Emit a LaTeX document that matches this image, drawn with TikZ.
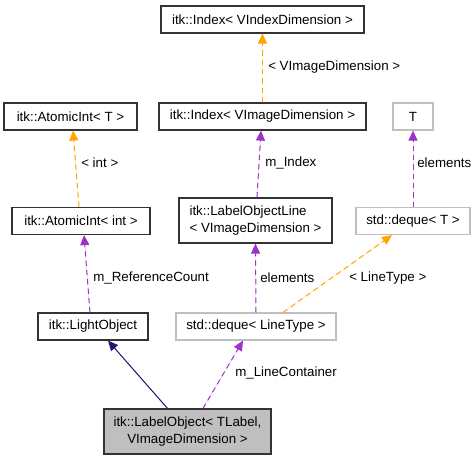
\documentclass[tikz,border=0pt]{standalone}
\usepackage{fontspec}
\setmainfont{Liberation Sans}
\usepackage{tikz}
\usetikzlibrary{arrows.meta, positioning}
\usepackage{xcolor}
\definecolor{edgeorange}{HTML}{FFA500}
\definecolor{edgepurple}{HTML}{9A32CD}
\definecolor{edgenavy}{HTML}{191970}
\definecolor{nodegray}{HTML}{BFBFBF}

\begin{document}
\begin{tikzpicture}[
    x=0.75pt, y=-0.75pt,
    every node/.style={font=\fontsize{10}{12.75}\selectfont},
    cls/.style={
        rectangle,
        draw=black!80,
        line width=0.9pt,
        inner sep=0pt,
        minimum height=20.25pt,
        align=center
    },
    extcls/.style={cls, draw=nodegray},
    lbl/.style={anchor=west, inner sep=0pt},
    inherit/.style={-{Triangle[length=7.5pt, width=6.75pt]}, draw=edgenavy, fill=edgenavy, line width=0.75pt},
    usage/.style={-{Triangle[length=7.5pt, width=6.75pt]}, draw=edgepurple, fill=edgepurple, line width=0.75pt, dash pattern=on 4pt off 3pt},
    tmpl/.style={-{Triangle[length=7.5pt, width=6.75pt]}, draw=edgeorange, fill=edgeorange, line width=0.75pt, dash pattern=on 4pt off 3pt}
]
\useasboundingbox (0,0) rectangle (476,461);

% Top rows
\node[cls, minimum width=152.25pt] (idxV) at (262.5,19.5) {itk::Index< VIndexDimension >};
\node[cls, minimum width=99.75pt] (atomT) at (70.5,116.5) {itk::AtomicInt< T >};
\node[cls, minimum width=155.25pt] (idxI) at (262.5,116.5) {itk::Index< VImageDimension >};
\node[extcls, minimum width=30pt] (T) at (413,116.5) {T};

% Middle row
\node[cls, minimum width=114.75pt, minimum height=33.75pt, align=left] (lol) at (255.5,220.5)
{itk::LabelObjectLine\\
< VImageDimension >};
\node[cls, minimum width=103.5pt] (atomInt) at (81,221) {itk::AtomicInt< int >};
\node[extcls, minimum width=85.5pt] (dqT) at (413,221) {std::deque< T >};

% Lower rows
\node[cls, minimum width=82.5pt] (light) at (93,326.5) {itk::LightObject};
\node[extcls, minimum width=120pt] (dqL) at (256,326.5) {std::deque< LineType >};
\node[cls, fill=nodegray, minimum width=125.25pt, minimum height=33.75pt] (main) at (187.5,431.5)
{itk::LabelObject< TLabel,\\
VImageDimension >};

% Connectors
\draw[inherit] ([xshift=-15pt]main.north) -- ([xshift=11.25pt]light.south);
\draw[usage] ([xshift=11.6pt]main.north) -- ([xshift=-9.75pt]dqL.south);
\draw[usage] ([xshift=-2.25pt]light.north) -- ([xshift=2.25pt]atomInt.south);
\draw[tmpl] ([xshift=-1.5pt]atomInt.north) -- ([xshift=1.9pt]atomT.south);
\draw[usage] ([xshift=1.1pt]lol.north) -- ([xshift=-1.1pt]idxI.south);
\draw[tmpl] (idxI.north) -- (idxV.south);
\draw[usage] (dqL.north) -- (lol.south);
\draw[tmpl] ([xshift=20.25pt]dqL.north) -- ([xshift=-15.75pt]dqT.south);
\draw[usage] (dqT.north) -- (T.south);

% Labels
\node[lbl] (lIdx) at (268,67) {< VImageDimension >};
\node[lbl] (lInt) at (81,163) {< int >};
\node[lbl] (lMIdx) at (265,163) {m\_Index};
\node[lbl] (lElT) at (417,163) {elements};
\node[lbl] (lRef) at (93,278) {m\_ReferenceCount};
\node[lbl] (lElL) at (260,278) {elements};
\node[lbl] (lLT) at (349,278) {< LineType >};
\node[lbl] (lCont) at (235,373) {m\_LineContainer};

\end{tikzpicture}
\end{document}
